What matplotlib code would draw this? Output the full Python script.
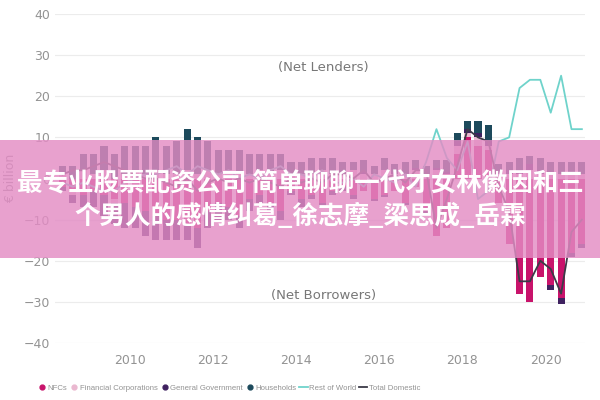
import numpy as np
import matplotlib.pyplot as plt
from matplotlib.patches import Rectangle
from matplotlib.lines import Line2D

# quarters 2008Q2 .. 2020Q4
years = [2008] * 3 + [y for y in range(2009, 2021) for _ in range(4)]
quarters = [2, 3, 4] + [1, 2, 3, 4] * 12

nfcs = [-2, -3, -4,
        -3, -4, -5, -6,
        -7, -8, -9, -10,
        -10, -11, -12, -8,
        -6, -7, -9, -5,
        -4, -6, -8, -3,
        -5, -4, -6, -3,
        -2, -4, -3, -5,
        -4, -3, -6, -2,
        -8, -14, -12, 6,
        10, 8, 7, -6,
        -16, -28, -30, -24,
        -26, -29, -18, -16]
fin_corps = [1, -1, 2,
             1, 2, -1, 1,
             2, 1, 2, 1,
             1, 2, 1, 2,
             1, 2, 1, 1,
             2, 1, 2, 1,
             1, 1, 2, 1,
             1, 2, 1, 1,
             2, 1, 1, 2,
             1, 2, 1, 2,
             1, 2, 1, 1,
             1, 1, 2, 1,
             1, 1, 1, 1]
gen_gov = [-1, -2, -3,
           -4, -5, -5, -6,
           -5, -6, -6, -5,
           -5, -4, -5, -4,
           -4, -3, -3, -3,
           -2, -2, -2, -1,
           -2, -1, -1, -1,
           -1, -1, 0.5, -0.5,
           -0.5, 0.5, -0.5, 0.5,
           -0.5, 0.5, 0.5, 1,
           1, 1, 1, 0.5,
           1, 1, 1.5, 1,
           -1, -1.5, -1, -1]
households = [2, 3, 4,
              5, 6, 6, 7,
              6, 7, 8, 7,
              8, 10, 9, 7,
              6, 5, 6, 5,
              4, 5, 4, 3,
              3, 4, 3, 4,
              3, 2, 3, 2,
              3, 2, 3, 2,
              2, 2, 3, 2,
              2, 3, 4, 2,
              2, 3, 2, 3,
              3, 3, 3, 3]
rest_of_world = [-1, -2, -1,
                 -2, -3, -3, -1,
                 0, 1, 1, 2,
                 3, 1, 3, 2,
                 1, 2, 0, 1,
                 0, 2, 3, 1,
                 1, 0, 2, -1,
                 -1, 0, -2, 1,
                 0, -1, 1, -2,
                 4, 12, 5, 2,
                 9, -5, -3, 9,
                 10, 22, 24, 24,
                 16, 25, 12, 12]
total_domestic = [1, 2, 2,
                  3, 4, 3, 2,
                  1, 0, 0, -1,
                  -2, 0, -3, -1,
                  0, -1, 0, -1,
                  0, -1, -2, 0,
                  -1, 0, -1, 1,
                  1, 0, 2, -1,
                  0, 1, -1, 2,
                  2, -12, -5, 3,
                  12, 10, 9, -2,
                  -8, -25, -25, -20,
                  -22, -28, -13, -10]

sectors = ["NFCs", "Financial Corporations", "General Government", "Households"]
sector_vals = [nfcs, fin_corps, gen_gov, households]
sector_cols = ["#c8136b", "#eab8d0", "#3f2160", "#1d4a5c"]
row_col = "#6fd3cb"
tot_col = "#3c3a48"
grey = "#939393"

x = np.array(years) + (np.array(quarters) - 1) * 0.25 + 0.125

fig = plt.figure(figsize=(6, 4), dpi=100)
ax = fig.add_axes([0.092, 0.1425, 0.883, 0.8225])

pos_base = np.zeros(len(x))
neg_base = np.zeros(len(x))
for vals, col in zip(sector_vals, sector_cols):
    v = np.array(vals, dtype=float)
    bottom = np.where(v >= 0, pos_base, neg_base)
    ax.bar(x, v, width=0.17, bottom=bottom, color=col, zorder=2)
    pos_base += np.where(v >= 0, v, 0)
    neg_base += np.where(v < 0, v, 0)

ax.plot(x, rest_of_world, color=row_col, lw=1.3, zorder=3)
ax.plot(x, total_domestic, color=tot_col, lw=1.3, zorder=3)

ax.set_xlim(2008.2, 2020.95)
ax.set_ylim(-40, 40)
ax.set_yticks(range(-40, 41, 10))
ax.set_xticks(range(2010, 2021, 2))
ax.grid(axis="y", color="#ececec", lw=0.8, zorder=0)
for s in ax.spines.values():
    s.set_visible(False)
ax.tick_params(length=0, colors=grey, labelsize=9)
ax.tick_params(axis="x", pad=8)
ax.set_ylabel("€ billion", color=grey, fontsize=9)
ax.yaxis.set_label_coords(-0.072, 0.5)

ax.text(2014.65, 27, "(Net Lenders)", color="#777777", fontsize=9.5, ha="center", va="center")
ax.text(2014.65, -28.5, "(Net Borrowers)", color="#777777", fontsize=9.5, ha="center", va="center")

handles = [Line2D([], [], marker="o", ls="", color=c, markersize=3.5) for c in sector_cols]
handles += [Line2D([], [], color=row_col, lw=1.3), Line2D([], [], color=tot_col, lw=1.3)]
labels = sectors + ["Rest of World", "Total Domestic"]
fig.legend(handles, labels, loc="center left", bbox_to_anchor=(0.058, 0.03), ncol=6,
           frameon=False, labelcolor=grey, handlelength=1.1,
           handletextpad=0.15, columnspacing=0.35, borderaxespad=0,
           prop={"family": "Liberation Sans", "size": 5.6})

# pink banner with overlay text
fig.patches.append(Rectangle((0, 1 - 258 / 400), 1, 118 / 400, transform=fig.transFigure,
                             facecolor="#e38cc4", alpha=0.82, zorder=10))
fig.text(0.5, 1 - 183 / 400, "最专业股票配资公司 简单聊聊一代才女林徽因和三", color="white",
         fontsize=18.4, fontweight="bold", ha="center", va="center", zorder=11,
         family=["Noto Sans CJK SC", "DejaVu Sans"])
fig.text(0.5, 1 - 216 / 400, "个男人的感情纠葛_徐志摩_梁思成_岳霖", color="white",
         fontsize=18.4, fontweight="bold", ha="center", va="center", zorder=11,
         family=["Noto Sans CJK SC", "DejaVu Sans"])

fig.savefig("out.png", dpi=100)
